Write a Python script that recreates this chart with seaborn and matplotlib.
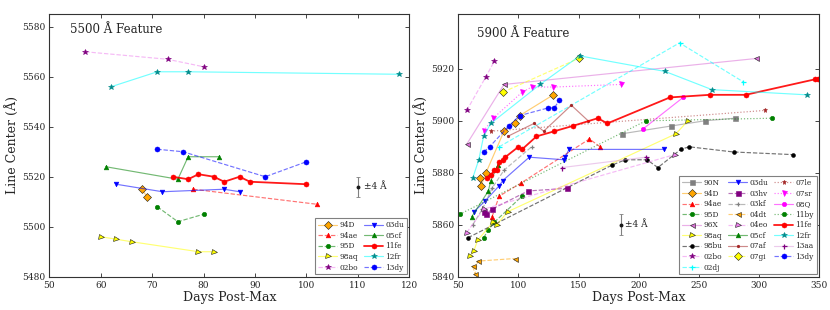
import matplotlib
matplotlib.use("Agg")
import matplotlib.pyplot as plt
import matplotlib.colors as mcolors
import seaborn as sns

# ---------------- 5500 A feature (left panel) ----------------
f55_94D_day = [68, 69];                      f55_94D_lc = [5515, 5512]
f55_94ae_day = [78, 102];                    f55_94ae_lc = [5515, 5509]
f55_95D_day = [71, 75, 80];                  f55_95D_lc = [5508, 5502, 5505]
f55_98aq_day = [60, 63, 66, 79, 82];         f55_98aq_lc = [5496, 5495, 5494, 5490, 5490]
f55_02bo_day = [57, 73, 80];                 f55_02bo_lc = [5570, 5567, 5564]
f55_03du_day = [63, 72, 84, 87];             f55_03du_lc = [5517, 5514, 5515, 5514]
f55_05cf_day = [61, 75, 77, 83];             f55_05cf_lc = [5524, 5519, 5528, 5528]
f55_11fe_day = [74, 77, 79, 82, 84, 87, 89, 100]
f55_11fe_lc = [5520, 5519, 5521, 5520, 5518, 5520, 5518, 5517]
f55_12fr_day = [62, 71, 77, 118];            f55_12fr_lc = [5556, 5562, 5562, 5561]
f55_13dy_day = [71, 76, 92, 100];            f55_13dy_lc = [5531, 5530, 5520, 5526]

f55_names = ["94D", "94ae", "95D", "98aq", "02bo", "03du", "05cf", "11fe", "12fr", "13dy"]

# ---------------- 5900 A feature (right panel) ----------------
f59_90N_day = [186, 227, 255, 280];          f59_90N_lc = [5895, 5898, 5900, 5901]
f59_94D_day = [68, 69, 73, 88, 97, 101, 129]
f59_94D_lc = [5878, 5875, 5880, 5896, 5899, 5902, 5910]
f59_94ae_day = [78, 84, 102, 159, 168];      f59_94ae_lc = [5863, 5871, 5876, 5893, 5890]
f59_95D_day = [71, 75, 80, 103];             f59_95D_lc = [5855, 5858, 5861, 5871]
f59_96X_day = [57, 88, 298];                 f59_96X_lc = [5891, 5914, 5924]
f59_98aq_day = [60, 63, 66, 79, 82, 91, 231, 241]
f59_98aq_lc = [5848, 5850, 5854, 5861, 5860, 5865, 5895, 5900]
f59_98bu_day = [58, 178, 189, 207, 216, 235, 242, 279, 328]
f59_98bu_lc = [5855, 5883, 5885, 5885, 5882, 5889, 5890, 5888, 5887]
f59_02bo_day = [57, 73, 80];                 f59_02bo_lc = [5904, 5917, 5923]
f59_02dj_day = [84, 234, 287];               f59_02dj_lc = [5890, 5930, 5915]
f59_03du_day = [63, 72, 84, 87, 109, 138, 139, 142, 221]
f59_03du_lc = [5865, 5869, 5875, 5877, 5886, 5885, 5886, 5889, 5889]
f59_03hv_day = [71, 73, 78, 108, 140];       f59_03hv_lc = [5865, 5864, 5866, 5873, 5874]
f59_03kf_day = [62, 70, 78, 88, 111];        f59_03kf_lc = [5860, 5866, 5874, 5881, 5890]
f59_04dt_day = [62, 64, 66, 97];             f59_04dt_lc = [5844, 5841, 5846, 5847]
f59_04eo_day = [57, 71, 230];                f59_04eo_lc = [5857, 5866, 5887]
f59_05cf_day = [61, 75, 77, 83];             f59_05cf_lc = [5863, 5873, 5877, 5883]
f59_07af_day = [91, 113, 121, 144, 158];     f59_07af_lc = [5894, 5899, 5896, 5906, 5900]
f59_07gi_day = [87, 150];                    f59_07gi_lc = [5911, 5924]
f59_07le_day = [77, 305];                    f59_07le_lc = [5896, 5904]
f59_07sr_day = [71, 79, 103, 111, 129, 185]; f59_07sr_lc = [5896, 5901, 5911, 5913, 5913, 5914]
f59_08Q_day = [204, 237];                    f59_08Q_lc = [5897, 5909]
f59_11by_day = [51, 206, 311];               f59_11by_lc = [5864, 5900, 5901]
f59_11fe_day = [74, 77, 80, 82, 84, 87, 89, 100, 103, 115, 130, 145, 166, 174, 226, 259, 289, 347, 349]
f59_11fe_lc = [5878, 5879, 5881, 5881, 5884, 5885, 5886, 5890, 5889, 5894, 5896, 5898, 5901, 5899,
               5909, 5910, 5910, 5916, 5916]
f59_12fr_day = [62, 67, 71, 77, 118, 151, 222, 261, 340]
f59_12fr_lc = [5878, 5885, 5894, 5899, 5914, 5925, 5919, 5912, 5910]
f59_13aa_day = [136, 206];                   f59_13aa_lc = [5882, 5886]
f59_13dy_day = [71, 76, 92, 101, 125, 130, 134]
f59_13dy_lc = [5888, 5890, 5898, 5902, 5905, 5905, 5908]

f59_names = ["90N", "94D", "94ae", "95D", "96X", "98aq", "98bu", "02bo", "02dj",
             "03du", "03hv", "03kf", "04dt", "04eo", "05cf", "07af", "07gi",
             "07le", "07sr", "08Q", "11by", "11fe", "12fr", "13aa", "13dy"]

# ---------------- styles ----------------
STY = {
    "90N":  ("gray", "s", "-", "gray", 3.6),
    "94D":  ("orange", "D", "-", "orange", 3.6),
    "94ae": ("red", "^", "--", "red", 3.4),
    "95D":  ("green", "o", "--", "green", 3.2),
    "96X":  ("orchid", "<", "-", "orchid", 3.6),
    "98aq": ("yellow", ">", "-", "yellow", 3.6),
    "98bu": ("black", "o", "--", "black", 2.8),
    "02bo": ("violet", "*", "--", "purple", 4.2),
    "02dj": ("cyan", "+", "--", "cyan", 3.6),
    "03du": ("blue", "v", "-", "blue", 3.4),
    "03hv": ("purple", "s", "--", "purple", 3.6),
    "03kf": ("gray", "+", "--", "gray", 2.8),
    "04dt": ("orange", "<", "--", "orange", 3.6),
    "04eo": ("violet", ">", "--", "violet", 3.6),
    "05cf": ("green", "^", "-", "green", 3.4),
    "07af": ("brown", ".", "-", "brown", 2.8),
    "07gi": ("yellow", "D", "--", "yellow", 4.4),
    "07le": ("brown", "*", ":", "brown", 3.6),
    "07sr": ("magenta", "v", ":", "magenta", 3.6),
    "08Q":  ("magenta", "o", "-", "magenta", 3.2),
    "11by": ("green", "o", ":", "green", 3.2),
    "11fe": ("red", "o", "-", "red", 3.6),
    "12fr": ("cyan", "*", "-", "darkcyan", 4.0),
    "13aa": ("plum", "+", "-", "purple", 3.6),
    "13dy": ("blue", "o", "--", "blue", 3.6),
}

sns.set_theme(style="ticks")
plt.rcParams["font.family"] = ["DejaVu Serif"]
plt.rcParams["mathtext.fontset"] = "dejavuserif"

fig = plt.figure(figsize=(8.3, 3.1), dpi=100)
axL = fig.add_axes([0.0594, 0.1074, 0.4337, 0.8465])
axR = fig.add_axes([0.5522, 0.1074, 0.4345, 0.8465])


def draw(ax, prefix, names):
    g = globals()
    for n in names:
        c, m, ls, mfc, ms = STY[n]
        alpha = 0.9 if n == "11fe" else 0.55
        lw = 1.3 if n == "11fe" else 0.85
        rgba = mcolors.to_rgba(c, alpha)
        mec = "k" if n in ("98aq", "07gi", "94D", "04dt", "04eo", "96X") else mfc
        sns.lineplot(x=g[f"{prefix}_{n}_day"], y=g[f"{prefix}_{n}_lc"], ax=ax,
                     color=rgba, linestyle=ls, linewidth=lw, marker=m,
                     markersize=ms, markerfacecolor=mfc, markeredgecolor=mec,
                     markeredgewidth=0.4 if m not in ("+", ".") else 0.9,
                     estimator=None, sort=False, label=n)


draw(axL, "f55", f55_names)
draw(axR, "f59", f59_names)

for ax in (axL, axR):
    ax.tick_params(direction="in", top=True, right=True, labelsize=6.5,
                   length=3, width=0.6, pad=3)
    for s in ax.spines.values():
        s.set_linewidth(0.8)
        s.set_color("#333333")
    ax.set_xlabel("Days Post-Max", fontsize=9, labelpad=1)
    ax.set_ylabel("Line Center (Å)", fontsize=9, labelpad=2)

axL.set_xlim(50, 120)
axL.set_ylim(5480, 5585)
axL.set_xticks(range(50, 121, 10))
axL.set_yticks(range(5480, 5581, 20))
axR.set_xlim(50, 350)
axR.set_ylim(5840, 5941)
axR.set_xticks(range(50, 351, 50))
axR.set_yticks(range(5840, 5921, 20))

axL.text(0.057, 0.965, "5500 Å Feature", transform=axL.transAxes, va="top", fontsize=8.5)
axR.text(0.053, 0.953, "5900 Å Feature", transform=axR.transAxes, va="top", fontsize=8.5)

# representative error bars
axL.errorbar([110], [5516], yerr=[4], fmt="o", color="k", ms=1.8, ecolor="gray",
             elinewidth=0.8, capsize=1.5, capthick=0.6)
axL.text(111.2, 5516, "±4 Å", va="center", fontsize=6.5)
axR.errorbar([185], [5860], yerr=[4], fmt="o", color="k", ms=1.8, ecolor="gray",
             elinewidth=0.8, capsize=1.5, capthick=0.6)
axR.text(189, 5860, "±4 Å", va="center", fontsize=6.5)

legkw = dict(loc="lower right", fontsize=5.3, frameon=True, fancybox=False,
             edgecolor="gray", framealpha=1, borderaxespad=0.3, handlelength=2.6,
             handletextpad=0.3, columnspacing=0.8, labelspacing=0.35, borderpad=0.4)
hL, lL = axL.get_legend_handles_labels()
axL.legend(hL, lL, ncol=2, **legkw)
hR, lR = axR.get_legend_handles_labels()
axR.legend(hR, lR, ncol=3, **legkw)
for ax in (axL, axR):
    ax.get_legend().get_frame().set_linewidth(0.8)

fig.savefig("out.png", dpi=100)
